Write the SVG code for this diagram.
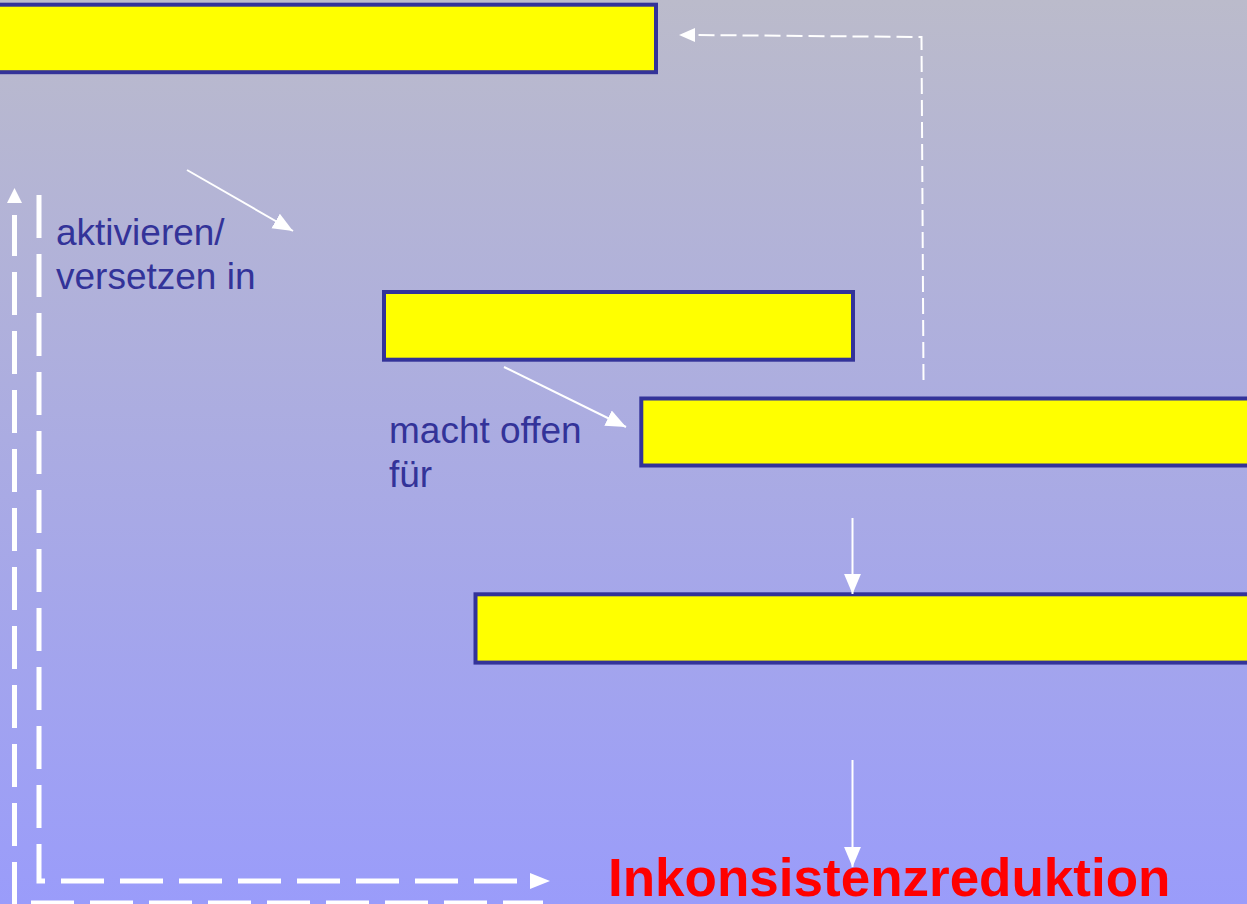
<svg xmlns="http://www.w3.org/2000/svg" width="1247" height="904" viewBox="0 0 1247 904">
  <style>
    .box { fill: #FFFF00; stroke: #333399; stroke-width: 4; }
    .lbl { font-family: "Liberation Sans", Arial, sans-serif; font-size: 37px; fill: #333399; }
    .big { font-family: "Liberation Sans", Arial, sans-serif; font-size: 53px; font-weight: bold; fill: #FF0000; }
    .thin { fill: none; stroke: #FFFFFF; stroke-width: 2; }
    .thindash { fill: none; stroke: #FFFFFF; stroke-width: 2; stroke-dasharray: 16 6; }
    .thickdash { fill: none; stroke: #FFFFFF; stroke-width: 5; stroke-dasharray: 43 16; }
  </style>
  <defs>
    <linearGradient id="bg" x1="0" y1="0" x2="0" y2="1">
      <stop offset="0" stop-color="#BBBBCB"/>
      <stop offset="1" stop-color="#9A9CFA"/>
    </linearGradient>
    <marker id="ah" markerUnits="userSpaceOnUse" markerWidth="20" markerHeight="18" viewBox="0 0 19 16" refX="19" refY="8" orient="auto">
      <path d="M0,0 L19,8 L0,16 Z" fill="#FFFFFF"/>
    </marker>
  </defs>
  <rect x="0" y="0" width="1247" height="904" fill="url(#bg)"/>

  <g id="box1"><rect class="box" x="-10" y="4.7" width="666" height="67.5"/></g>
  <g id="box2"><rect class="box" x="384" y="292" width="469" height="67.7"/></g>
  <g id="box3"><rect class="box" x="641.3" y="398.5" width="620" height="67"/></g>
  <g id="box4"><rect class="box" x="475.5" y="594.3" width="790" height="68.3"/></g>

  <g id="connectors">
    <path class="thin" d="M187,170 L293,231" marker-end="url(#ah)"/>
    <path class="thin" d="M504,367 L626,427" marker-end="url(#ah)"/>
    <path class="thin" d="M852.5,518 L852.5,594" marker-end="url(#ah)"/>
    <path class="thin" d="M852.5,760 L852.5,867" marker-end="url(#ah)"/>
    <path class="thindash" d="M923.5,380 L921.5,37 L695,35"/>
    <path d="M679,35 L695,28 L695,42 Z" fill="#FFFFFF"/>
    <path class="thickdash" d="M14.5,905 L14.5,215"/>
    <path class="thickdash" d="M31,903 L543,903"/>
    <path d="M14.5,188 L22,203 L7,203 Z" fill="#FFFFFF"/>
    <path class="thickdash" d="M39,195 L39,881 L530,881"/>
    <path d="M550,881 L530,873 L530,889 Z" fill="#FFFFFF"/>
  </g>

  <g id="labels">
    <text class="lbl" x="56" y="245">aktivieren/</text>
    <text class="lbl" x="56" y="289">versetzen in</text>
    <text class="lbl" x="389" y="443">macht offen</text>
    <text class="lbl" x="389" y="487">für</text>
  </g>
  <g id="result">
    <text class="big" x="608" y="896">Inkonsistenzreduktion</text>
  </g>
</svg>
